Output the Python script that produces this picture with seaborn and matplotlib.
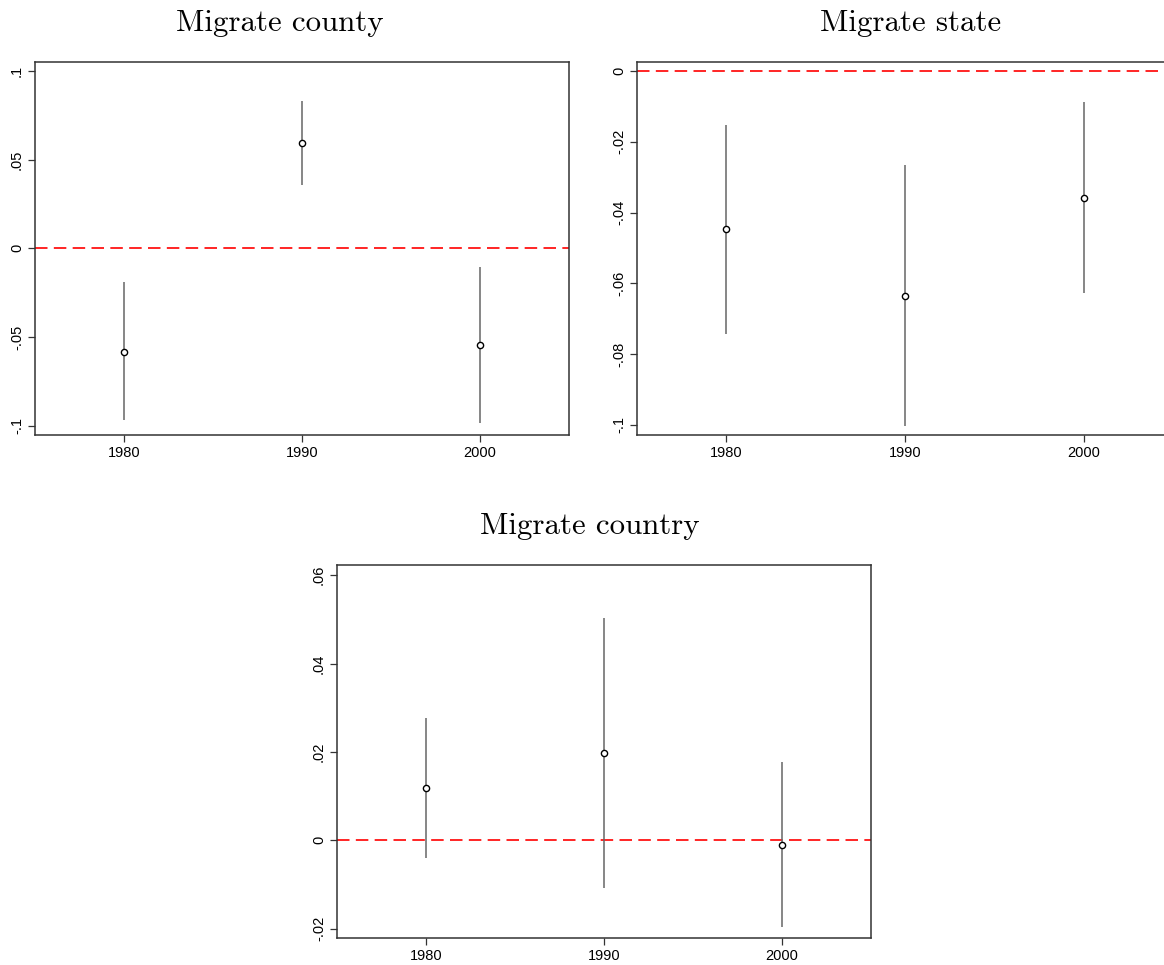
import numpy as np
import pandas as pd
import matplotlib
matplotlib.use("Agg")
import matplotlib.pyplot as plt
import seaborn as sns

years = [1980, 1990, 2000]

# Migrate county
county_coef = [-0.0582, 0.0593, -0.0544]
county_lo = [-0.0968, 0.0356, -0.0985]
county_hi = [-0.0192, 0.0832, -0.0105]

# Migrate state
state_coef = [-0.0448, -0.0636, -0.0359]
state_lo = [-0.0744, -0.1004, -0.0628]
state_hi = [-0.0152, -0.0265, -0.0088]

# Migrate country
country_coef = [0.0118, 0.0197, -0.0010]
country_lo = [-0.0040, -0.0107, -0.0196]
country_hi = [0.0277, 0.0502, 0.0177]

county_ticks = [0.1, 0.05, 0, -0.05, -0.1]
county_labels = [".1", ".05", "0", "-.05", "-.1"]
state_ticks = [0, -0.02, -0.04, -0.06, -0.08, -0.1]
state_labels = ["0", "-.02", "-.04", "-.06", "-.08", "-.1"]
country_ticks = [0.06, 0.04, 0.02, 0, -0.02]
country_labels = [".06", ".04", ".02", "0", "-.02"]

sns.set_style("white")
plt.rcParams['font.family'] = ['Liberation Sans', 'DejaVu Sans']
plt.rcParams['text.color'] = 'black'
plt.rcParams['xtick.color'] = 'black'
plt.rcParams['ytick.color'] = 'black'

fig = plt.figure(figsize=(11.64, 9.65), dpi=100)

W, H = 1164, 965


def make_ax(l, r, t, b):
    return fig.add_axes([l / W, (H - b) / H, (r - l) / W, (b - t) / H])


def panel(ax, title, coef, lo, hi, ticks, labels, ylim, title_x):
    df = pd.DataFrame({"year": years, "coef": coef, "lo": lo, "hi": hi})
    ax.axhline(0, color="red", lw=1.2, ls=(0, (7.5, 3.8)), zorder=1)
    ax.vlines(df["year"], df["lo"], df["hi"], color="#666666", lw=1.1, zorder=2)
    sns.scatterplot(data=df, x="year", y="coef", ax=ax, marker="o", s=20,
                    facecolor="white", edgecolor="black", linewidth=1.0, zorder=3)
    ax.set_xlim(1975, 2005)
    ax.set_ylim(*ylim)
    ax.set_xticks(years)
    ax.set_xticklabels([str(y) for y in years], fontsize=10.5)
    ax.set_yticks(ticks)
    ax.set_yticklabels(labels, fontsize=10.5, rotation=90, va="center")
    ax.set_xlabel("")
    ax.set_ylabel("")
    ax.tick_params(axis="both", which="both", direction="out", length=5,
                   width=0.9, color="#333333", left=True, bottom=True, pad=3)
    for s in ax.spines.values():
        s.set_color("#333333")
        s.set_linewidth(1.1)
    t = ax.set_title(title, fontsize=22.2, family="cmr10", pad=22.5, color="black")
    t.set_x(title_x)


ax1 = make_ax(35, 569, 62, 435)
panel(ax1, "Migrate county", county_coef, county_lo, county_hi,
      county_ticks, county_labels, (-0.1053, 0.1051), 0.459)

ax2 = make_ax(637, 1173, 62, 435)
panel(ax2, "Migrate state", state_coef, state_lo, state_hi,
      state_ticks, state_labels, (-0.1029, 0.00255), 0.511)

ax3 = make_ax(337, 871, 565, 938)
panel(ax3, "Migrate country", country_coef, country_lo, country_hi,
      country_ticks, country_labels, (-0.0221, 0.0623), 0.474)

fig.savefig("out.png", dpi=100)
